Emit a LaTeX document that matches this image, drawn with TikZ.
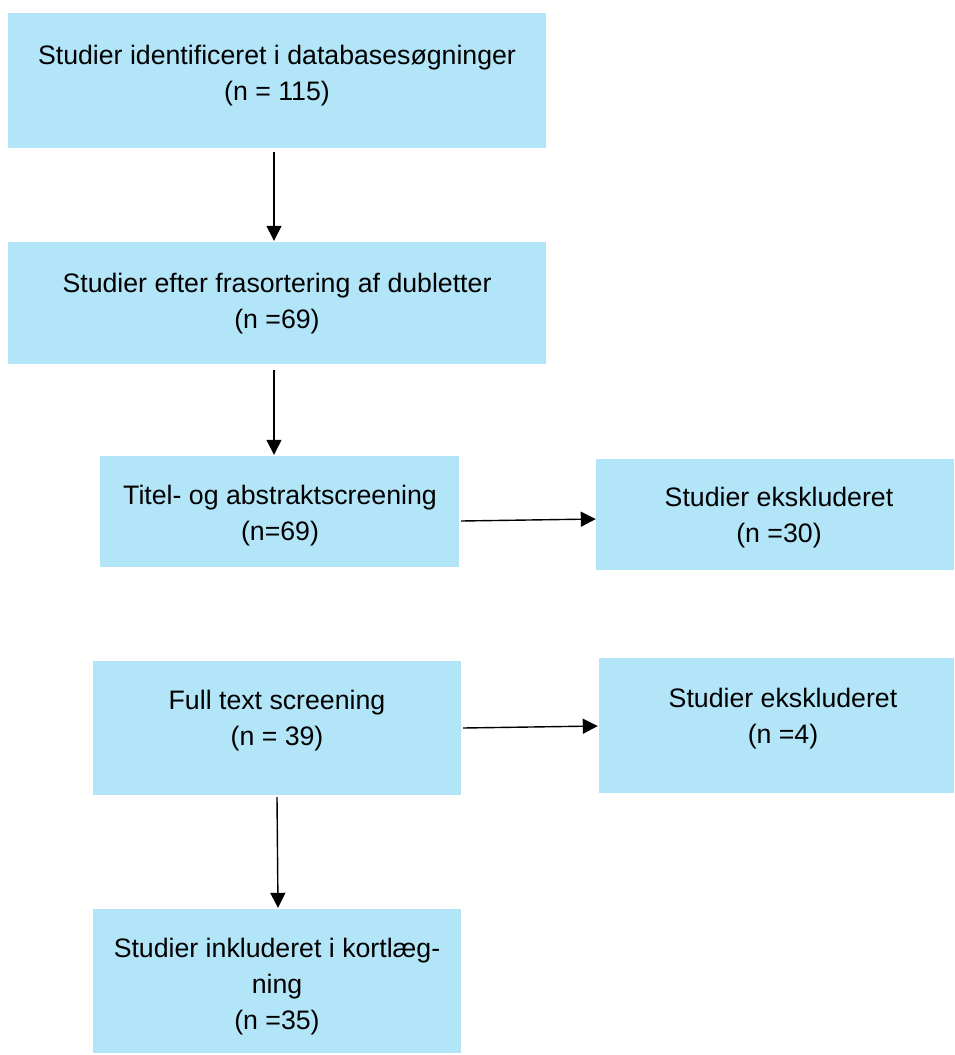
\documentclass[tikz,border=0pt]{standalone}
\usepackage{fontspec}
\setmainfont{Liberation Sans}
\usetikzlibrary{arrows.meta,calc}
\definecolor{boxblue}{RGB}{179,229,248}
\tikzset{
  box/.style={fill=boxblue, draw=none, rectangle, inner sep=0pt},
  txt/.style={align=center, anchor=north, inner sep=0pt, font=\fontsize{26.7}{36}\selectfont},
  arr/.style={line width=1.4pt, -{Triangle[length=15pt,width=15pt]}}
}
\begin{document}
\begin{tikzpicture}[x=1pt,y=-1pt]
\useasboundingbox (0,0) rectangle (954,1055);
% boxes
\node[box, minimum width=538pt, minimum height=135pt] (b1) at (277,80.5) {};
\node[box, minimum width=538pt, minimum height=122pt] (b2) at (277,303) {};
\node[box, minimum width=359pt, minimum height=111pt] (b3) at (279.5,511.5) {};
\node[box, minimum width=358pt, minimum height=111pt] (b4) at (775,514.5) {};
\node[box, minimum width=368pt, minimum height=134pt] (b5) at (277,728) {};
\node[box, minimum width=355pt, minimum height=135pt] (b6) at (776.5,725.5) {};
\node[box, minimum width=368pt, minimum height=144pt] (b7) at (277,981) {};
% texts
\node[txt] (t1) at (277,45) {Studier identificeret i databasesøgninger\\(n = 115)};
\node[txt] (t2) at (277,273) {Studier efter frasortering af dubletter\\(n =69)};
\node[txt] (t3) at (280,485) {Titel- og abstraktscreening\\(n=69)};
\node[txt] (t4) at (779,487) {Studier ekskluderet\\(n =30)};
\node[txt] (t5) at (277,690) {Full text screening\\(n = 39)};
\node[txt] (t6) at (783,688) {Studier ekskluderet\\(n =4)};
\node[txt] (t7) at (277,938) {Studier inkluderet i kortlæg-\\ning\\(n =35)};
% connectors
\draw[arr] ($(b1.south)+(-3,4)$) -- ($(b2.north)+(-3,-1)$);
\draw[arr] ($(b2.south)+(-3,6)$) -- ($(b3.north)+(-5.5,-1)$);
\draw[arr] ($(b3.east)+(2,9.5)$) -- ($(b4.west)+(0,4.5)$);
\draw[arr] ($(b5.east)+(2,0)$) -- ($(b6.west)+(-1,0.5)$);
\draw[arr] ($(b5.south)+(0,2)$) -- ($(b7.north)+(1,-1)$);
\end{tikzpicture}
\end{document}
